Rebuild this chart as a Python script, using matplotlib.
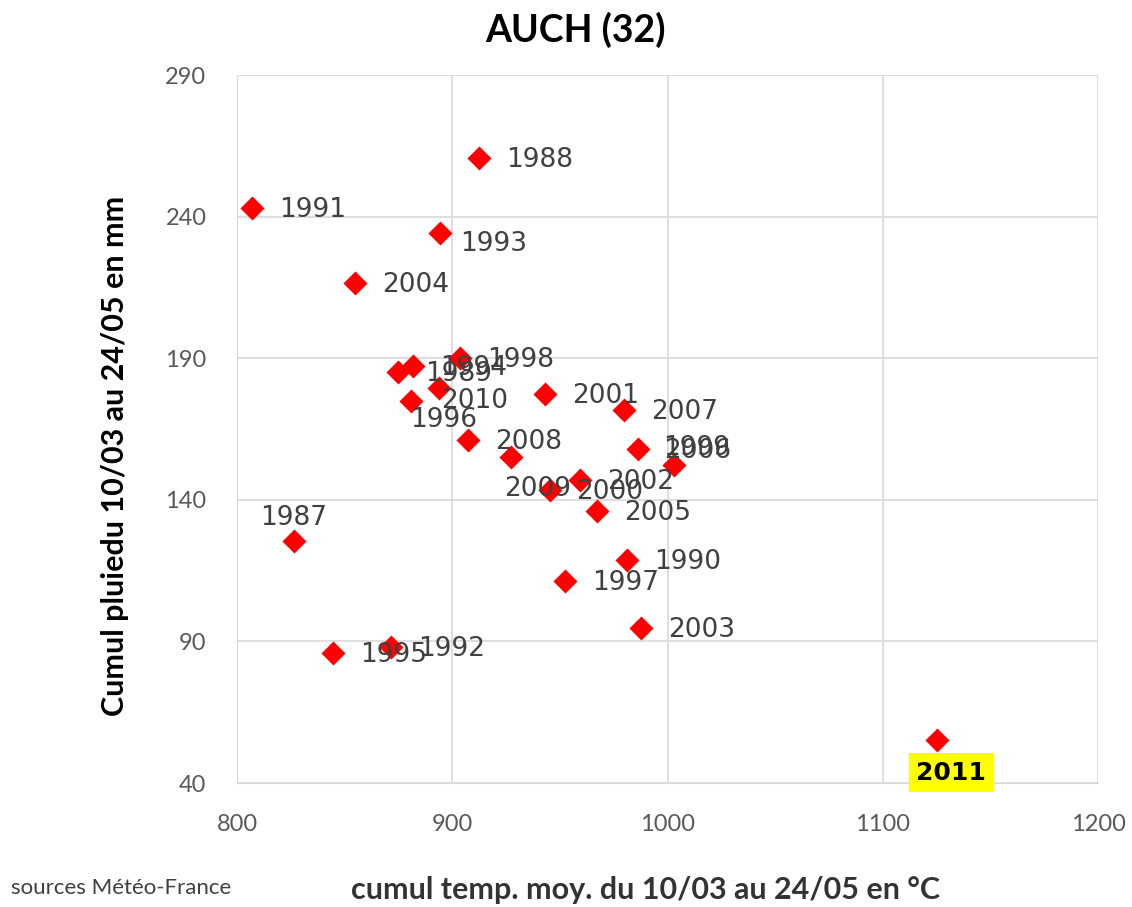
import numpy as np
import matplotlib.pyplot as plt

# cumul temperature (x) and rainfall (y) per year
years = ['1988', '1991', '1993', '2004', '1989', '1994', '1998', '1996', '2010',
         '2001', '2007', '2008', '2009', '2006', '1999', '2002', '2000', '2005',
         '1987', '1990', '1997', '2003', '1995', '1992', '2011']
temp = [912.3, 807.0, 894.2, 854.8, 874.7, 881.7, 903.5, 893.7, 880.7,
        942.9, 980.0, 907.2, 927.1, 986.1, 1002.8, 959.2, 945.2, 967.1,
        826.5, 981.0, 952.2, 987.9, 844.5, 871.5, 1125.3]
rain = [260.7, 243.1, 234.2, 216.6, 185.2, 187.3, 190.1, 179.6, 175.0,
        177.4, 171.8, 161.2, 155.2, 158.0, 152.4, 147.1, 143.6, 136.2,
        125.6, 118.9, 111.5, 94.9, 86.0, 88.2, 55.3]

# label offsets in pixels (default: right of the marker)
offsets = {'1987': (0, 23, 'center'), '1993': (20, -11, 'left'),
           '1996': (-29, -32, 'left'), '2010': (30, 0, 'left'),
           '2009': (-6, -32, 'left'), '1999': (-10, 17, 'left'),
           '2011': (14, -33, 'center')}

fig = plt.figure(figsize=(11.32, 9.07), dpi=100)
ax = fig.add_axes([0.2094, 0.1367, 0.7606, 0.7806])

ax.scatter(temp, rain, marker='D', s=150, color='#ff0000', zorder=3, linewidths=0)

for yr, x, y in zip(years, temp, rain):
    dx, dy, ha = offsets.get(yr, (27, -2, 'left'))
    if yr == '2011':
        ax.annotate(yr, (x, y), xytext=(dx, dy), textcoords='offset pixels',
                    ha=ha, va='center', fontsize=18, fontweight='bold',
                    bbox=dict(boxstyle='square,pad=0.3', fc='#ffff00', ec='none'))
    else:
        ax.annotate(yr, (x, y), xytext=(dx, dy), textcoords='offset pixels',
                    ha=ha, va='center', fontsize=19, color='#404040')

ax.set_xlim(800, 1200)
ax.set_ylim(40, 290)
ax.set_xticks([800, 900, 1000, 1100, 1200])
ax.set_yticks([40, 90, 140, 190, 240, 290])
ax.grid(True, color='#d9d9d9', linewidth=1.2)
ax.set_axisbelow(True)
for s in ax.spines.values():
    s.set_visible(False)
ax.spines['left'].set_visible(True)
ax.spines['left'].set_color('#d9d9d9')
ax.spines['bottom'].set_visible(True)
ax.spines['bottom'].set_color('#d9d9d9')
ax.tick_params(length=0, labelsize=17, labelcolor='#595959', pad=22)
for lab in ax.get_xticklabels() + ax.get_yticklabels():
    lab.set_family('Lato')

fig.text(0.102, 0.497, 'Cumul pluiedu 10/03 au 24/05 en mm', rotation=90,
         ha='center', va='center', fontsize=22, fontweight='bold', family='Lato')
fig.text(0.508, 0.967, 'AUCH (32)', ha='center', va='center', fontsize=27,
         fontweight='bold', family='Lato')
fig.text(0.57, 0.019, 'cumul temp. moy. du 10/03 au 24/05 en °C', ha='center',
         va='center', fontsize=22, fontweight='bold', family='Lato', color='#333333')
fig.text(0.01, 0.021, 'sources Météo-France', ha='left', va='center', fontsize=16,
         family='Lato', color='#404040')

plt.savefig('out.png', dpi=100)
